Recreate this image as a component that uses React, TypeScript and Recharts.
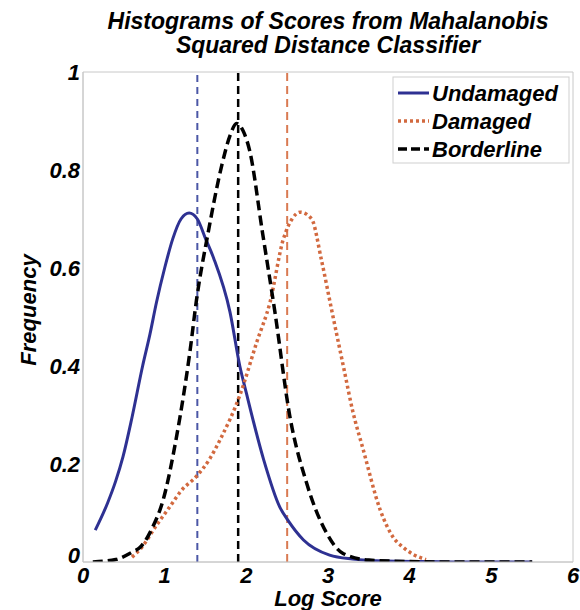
import { LineChart, Line, XAxis, YAxis, ReferenceLine, ReferenceArea, Customized } from "recharts";

// log score / frequency pairs
const undamagedScore = [0.15, 0.3, 0.4, 0.49, 0.6, 0.73, 0.82, 0.9, 1.0, 1.1, 1.2, 1.3, 1.4, 1.5, 1.6, 1.8, 1.92, 2.0, 2.21, 2.41, 2.51, 2.7, 3.02, 3.3, 3.7, 4.2, 4.8, 5.5];
const undamagedFreq = [0.065, 0.12, 0.165, 0.215, 0.295, 0.4, 0.465, 0.53, 0.6, 0.66, 0.7, 0.712, 0.7, 0.66, 0.62, 0.51, 0.4, 0.345, 0.21, 0.112, 0.085, 0.045, 0.014, 0.006, 0.002, 0.001, 0, 0];

const damagedScore = [0.6, 0.72, 0.9, 1.06, 1.2, 1.39, 1.55, 1.68, 1.92, 2.13, 2.29, 2.45, 2.56, 2.66, 2.8, 2.92, 3.05, 3.2, 3.3, 3.43, 3.64, 3.8, 3.92, 4.05, 4.2];
const damagedFreq = [0.01, 0.03, 0.075, 0.112, 0.145, 0.175, 0.21, 0.25, 0.34, 0.45, 0.53, 0.657, 0.7, 0.714, 0.7, 0.616, 0.51, 0.39, 0.31, 0.23, 0.106, 0.05, 0.03, 0.015, 0.005];

const borderlineScore = [0.12, 0.4, 0.6, 0.7, 0.85, 0.98, 1.15, 1.31, 1.39, 1.53, 1.7, 1.8, 1.88, 1.96, 2.04, 2.2, 2.35, 2.53, 2.74, 2.98, 3.18, 3.5, 4.0, 4.5, 5.0, 5.5];
const borderlineFreq = [0, 0.005, 0.02, 0.03, 0.07, 0.126, 0.26, 0.43, 0.535, 0.67, 0.81, 0.87, 0.895, 0.88, 0.84, 0.67, 0.51, 0.3, 0.16, 0.06, 0.018, 0.004, 0.001, 0, 0, 0];

// mean score markers
const undamagedMean = 1.4;
const borderlineMean = 1.9;
const damagedMean = 2.5;

const xTicks = [0, 1, 2, 3, 4, 5, 6];
const yTicks = [0, 0.2, 0.4, 0.6, 0.8, 1];

const toPoints = (xs: number[], ys: number[]) => xs.map((score, i) => ({ score, freq: ys[i] }));

const BLUE = "#2e3192";
const ORANGE = "#d2693f";
const FONT = "'Liberation Sans', Arial, sans-serif";
const textStyle = { fontFamily: FONT, fontWeight: 700, fontStyle: "italic", fontSize: 22, fill: "#000" };
const titleStyle = { ...textStyle, fontSize: 23 };

const legendItems = [
  { name: "Undamaged", color: BLUE, dash: undefined, width: 3 },
  { name: "Damaged", color: ORANGE, dash: "3 3", width: 3.5 },
  { name: "Borderline", color: "#000", dash: "9 4", width: 3.5 },
];

// y tick labels; the "0" sits a little above the axis like in the original
function YTick(props: any) {
  const { x, y, payload } = props;
  const lift = payload.value === 0 ? 7 : 0;
  return (
    <text x={x} y={y - lift} dy="0.355em" textAnchor="end" style={textStyle}>
      {payload.value}
    </text>
  );
}

function Decorations() {
  return (
    <g>
      <text x={328} y={29} textAnchor="middle" style={titleStyle}>Histograms of Scores from Mahalanobis</text>
      <text x={328} y={53} textAnchor="middle" style={titleStyle}>Squared Distance Classifier</text>
      <text x={328} y={606} textAnchor="middle" style={textStyle}>Log Score</text>
      <text x={36} y={310} textAnchor="middle" transform="rotate(-90, 36, 310)" style={textStyle}>Frequency</text>
      <rect x={393} y={77} width={176} height={86} fill="#fff" stroke="#cfcfcf" />
      {legendItems.map((it, i) => (
        <g key={it.name}>
          <line x1={398} x2={429} y1={93 + i * 28} y2={93 + i * 28} stroke={it.color} strokeWidth={it.width} strokeDasharray={it.dash} />
          <text x={432} y={101 + i * 28} style={textStyle}>{it.name}</text>
        </g>
      ))}
    </g>
  );
}

export default function App() {
  return (
    <div style={{ position: "absolute", left: 0, top: 0, background: "#fff" }}>
      <LineChart width={580} height={610} margin={{ top: 72, right: 7, bottom: 0, left: 0 }}>
        <XAxis
          type="number"
          dataKey="score"
          domain={[0, 6]}
          ticks={xTicks}
          height={48}
          tickLine={false}
          tickSize={0}
          tickMargin={5}
          axisLine={{ stroke: "#c8c8c8" }}
          tick={textStyle}
          allowDataOverflow
        />
        <YAxis
          type="number"
          domain={[0, 1]}
          ticks={yTicks}
          width={83}
          tickLine={false}
          tickSize={0}
          tickMargin={3}
          axisLine={{ stroke: "#c8c8c8" }}
          tick={<YTick />}
          allowDataOverflow
        />
        <ReferenceArea x1={0} x2={6} y1={0} y2={1} fill="none" stroke="#c8c8c8" strokeWidth={1} />
        <ReferenceLine x={undamagedMean} stroke="#4b57a6" strokeWidth={2} strokeDasharray="7 5" />
        <ReferenceLine x={borderlineMean} stroke="#000" strokeWidth={2.5} strokeDasharray="8 5" />
        <ReferenceLine x={damagedMean} stroke="#d97a52" strokeWidth={2} strokeDasharray="8 5" />
        <Line
          data={toPoints(undamagedScore, undamagedFreq)}
          dataKey="freq"
          name="Undamaged"
          type="monotone"
          stroke={BLUE}
          strokeWidth={3}
          dot={false}
          isAnimationActive={false}
        />
        <Line
          data={toPoints(damagedScore, damagedFreq)}
          dataKey="freq"
          name="Damaged"
          type="monotone"
          stroke={ORANGE}
          strokeWidth={3.5}
          strokeDasharray="3 3"
          dot={false}
          isAnimationActive={false}
        />
        <Line
          data={toPoints(borderlineScore, borderlineFreq)}
          dataKey="freq"
          name="Borderline"
          type="monotone"
          stroke="#000"
          strokeWidth={3.5}
          strokeDasharray="10 5"
          dot={false}
          isAnimationActive={false}
        />
        <Customized component={Decorations} />
      </LineChart>
    </div>
  );
}
